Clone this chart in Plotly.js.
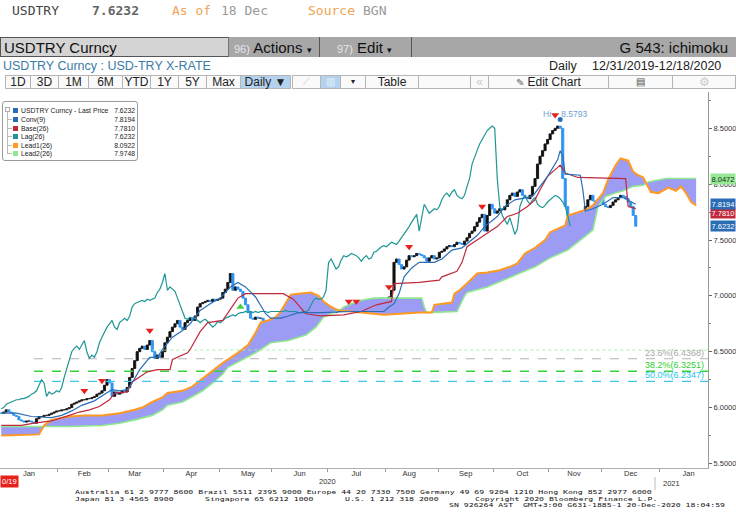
<!DOCTYPE html>
<html><head><meta charset="utf-8">
<script src="https://cdn.plot.ly/plotly-3.0.1.min.js"></script>
<style>
html,body{margin:0;padding:0;background:#fff;width:736px;height:530px;overflow:hidden;font-family:"Liberation Sans",Arial,sans-serif;}
#chart{position:absolute;left:0;top:0;width:736px;height:530px;}
.o{position:absolute;white-space:nowrap;z-index:10;}
.mono{font-family:"DejaVu Sans Mono",monospace;}
.btn{position:absolute;top:75px;height:14px;border:1px solid #b5b5b5;box-sizing:border-box;background:#fafafa;font-size:12px;line-height:12px;text-align:center;color:#222;z-index:10;}
.lg{position:absolute;font-size:6.8px;line-height:8px;color:#222;white-space:nowrap;}
.sq{position:absolute;width:5px;height:5px;left:10px;}
.ft{position:absolute;font-family:"DejaVu Sans Mono",monospace;font-size:8.2px;line-height:8px;color:#111;white-space:pre;z-index:10;transform:scaleY(0.72);transform-origin:0 0;}
</style></head><body>
<div id="chart"></div>

<!-- header -->
<div class="o mono" style="left:12px;top:3px;font-size:13px;color:#444;">USDTRY</div>
<div class="o mono" style="left:92px;top:3px;font-size:13px;color:#666;font-weight:bold;">7.6232</div>
<div class="o mono" style="left:172px;top:3px;font-size:13px;color:#f0a452;">As of</div>
<div class="o mono" style="left:221px;top:3px;font-size:13px;color:#999;">18 Dec</div>
<div class="o mono" style="left:308px;top:3px;font-size:13px;color:#f0a452;">Source</div>
<div class="o mono" style="left:363px;top:3px;font-size:13px;color:#999;">BGN</div>

<div class="o" style="left:0;top:37px;width:736px;height:20px;background:#a7a7a7;"></div>
<div class="o" style="left:0;top:37px;width:229px;height:20px;box-sizing:border-box;background:#d4d4d4;border:1px solid #555;border-right:1px solid #777;"></div>
<div class="o" style="left:4px;top:39px;font-size:15px;color:#111;">USDTRY Curncy</div>
<div class="o" style="left:319px;top:37px;width:1px;height:20px;background:#555;"></div>
<div class="o" style="left:411px;top:37px;width:1px;height:20px;background:#555;"></div>
<div class="o" style="left:234px;top:39px;font-size:15px;color:#111;"><span style="font-size:11px;color:#e6e6e6;">96)</span> Actions <span style="font-size:9px;">▾</span></div>
<div class="o" style="left:337px;top:39px;font-size:15px;color:#111;"><span style="font-size:11px;color:#e6e6e6;">97)</span> Edit <span style="font-size:9px;">▾</span></div>
<div class="o" style="right:8px;top:39px;font-size:15px;color:#111;">G 543: ichimoku</div>

<div class="o" style="left:3px;top:59px;font-size:12.5px;color:#3a7ca5;">USDTRY Curncy : USD-TRY X-RATE</div>
<div class="o" style="left:549px;top:59px;font-size:12.5px;color:#222;">Daily</div>
<div class="o" style="left:592px;top:59px;font-size:12.5px;color:#222;">12/31/2019-12/18/2020</div>

<!-- toolbar -->
<div class="btn" style="left:5px;width:26px;">1D</div>
<div class="btn" style="left:30px;width:29px;">3D</div>
<div class="btn" style="left:58px;width:31px;">1M</div>
<div class="btn" style="left:88px;width:35px;">6M</div>
<div class="btn" style="left:122px;width:29px;">YTD</div>
<div class="btn" style="left:150px;width:29px;">1Y</div>
<div class="btn" style="left:178px;width:29px;">5Y</div>
<div class="btn" style="left:206px;width:35px;">Max</div>
<div class="btn" style="left:240px;width:51px;background:#b4d2ee;">Daily ▼</div>
<div class="btn" style="left:292px;width:29px;color:#cfcfcf;font-size:10px;">⟋</div>
<div class="btn" style="left:320px;width:21px;background:#b4d2ee;color:#e8f0f8;font-size:10px;">▥</div>
<div class="btn" style="left:340px;width:26px;font-size:8px;">▾</div>
<div class="btn" style="left:365px;width:54px;">Table</div>
<div class="btn" style="left:418px;width:53px;"></div>
<div class="btn" style="left:470px;width:19px;color:#ccc;">«</div>
<div class="btn" style="left:488px;width:121px;"><span style="font-size:10px;color:#666;">✎</span> Edit Chart</div>
<div class="btn" style="left:608px;width:65px;font-size:10px;color:#555;">▤</div>
<div class="btn" style="left:672px;width:64px;color:#ccc;">⚙</div>

<!-- legend -->
<div class="o" style="left:2px;top:101px;width:136px;height:60px;box-sizing:border-box;border:1px solid #9a9a9a;border-radius:3px;background:#fff;">
  <div style="position:absolute;left:4px;top:8px;width:1px;height:44px;background:#bbb;"></div>
  <div style="position:absolute;left:2px;top:5px;width:5px;height:5px;border:1px solid #aaa;background:#fff;box-sizing:border-box;"></div>
  <div style="position:absolute;left:5px;top:17px;width:4px;height:1px;background:#bbb;"></div>
  <div style="position:absolute;left:5px;top:26px;width:4px;height:1px;background:#bbb;"></div>
  <div style="position:absolute;left:5px;top:34px;width:4px;height:1px;background:#bbb;"></div>
  <div style="position:absolute;left:5px;top:43px;width:4px;height:1px;background:#bbb;"></div>
  <div style="position:absolute;left:5px;top:51px;width:4px;height:1px;background:#bbb;"></div>
  <div class="sq" style="top:6px;background:#2a6db5;"></div>
  <div class="sq" style="top:15px;background:#2a6db5;"></div>
  <div class="sq" style="top:24px;background:#c0283c;"></div>
  <div class="sq" style="top:32px;background:#1f9696;"></div>
  <div class="sq" style="top:41px;background:#ff9922;"></div>
  <div class="sq" style="top:49px;background:#8fe88f;"></div>
  <div class="lg" style="left:18px;top:5px;">USDTRY Curncy - Last Price</div><div class="lg" style="right:2px;top:5px;">7.6232</div>
  <div class="lg" style="left:18px;top:14px;">Conv(9)</div><div class="lg" style="right:2px;top:14px;">7.8194</div>
  <div class="lg" style="left:18px;top:23px;">Base(26)</div><div class="lg" style="right:2px;top:23px;">7.7810</div>
  <div class="lg" style="left:18px;top:31px;">Lag(26)</div><div class="lg" style="right:2px;top:31px;">7.6232</div>
  <div class="lg" style="left:18px;top:40px;">Lead1(26)</div><div class="lg" style="right:2px;top:40px;">8.0922</div>
  <div class="lg" style="left:18px;top:48px;">Lead2(26)</div><div class="lg" style="right:2px;top:48px;">7.9748</div>
</div>

<!-- footer -->
<div class="ft" style="left:75px;top:489px;">Australia 61 2 9777 8600 Brazil 5511 2395 9000 Europe 44 20 7330 7500 Germany 49 69 9204 1210 Hong Kong 852 2977 6000</div>
<div class="ft" style="left:75px;top:495.5px;">Japan 81 3 4565 8900</div>
<div class="ft" style="left:205px;top:495.5px;">Singapore 65 6212 1000</div>
<div class="ft" style="left:345px;top:495.5px;">U.S. 1 212 318 2000</div>
<div class="ft" style="left:475px;top:495.5px;">Copyright 2020 Bloomberg Finance L.P.</div>
<div class="ft" style="left:449px;top:502px;">SN 926264 AST  GMT+3:00 G631-1885-1 20-Dec-2020 18:04:59</div>

<script>
// ---------- data ----------
const firstDay = '2020-01-01';
const prevClose2019 = 5.9505;               // 31 Dec 2019 close
// daily USDTRY closes, 1 Jan 2020 .. 18 Dec 2020 (trading days)
const closeJan = [5.95,5.96,5.98,5.96,5.95,5.93,5.92,5.89,5.88,5.87,5.88,5.88,5.87,5.86,5.90,5.92,5.92,5.93,5.93,5.94,5.95,5.96,5.97];
const closeFeb = [5.97,5.98,5.98,5.99,6.00,6.03,6.04,6.05,6.06,6.07,6.07,6.08,6.08,6.09,6.10,6.12,6.13,6.15,6.20,6.25];
const closeMar = [6.22,6.10,6.14,6.12,6.13,6.15,6.14,6.18,6.27,6.35,6.42,6.50,6.53,6.55,6.52,6.56,6.60,6.50,6.44,6.47,6.45,6.50];
const closeApr = [6.58,6.63,6.68,6.72,6.75,6.78,6.72,6.70,6.76,6.78,6.80,6.78,6.82,6.90,6.93,6.94,6.95,6.96,6.95,6.97,6.96,6.97];
const closeMay = [6.98,7.03,7.06,7.12,7.20,7.05,7.08,7.06,7.04,6.98,6.92,6.86,6.80,6.79,6.81,6.80,6.80,6.78,6.76,6.78,6.79];
const closeJun = [6.77,6.74,6.72,6.74,6.77,6.76,6.78,6.80,6.81,6.82,6.83,6.82,6.84,6.85,6.85,6.86,6.85,6.86,6.85,6.86,6.85,6.86];
const closeJul = [6.86,6.86,6.85,6.86,6.86,6.86,6.86,6.86,6.86,6.87,6.86,6.86,6.86,6.86,6.85,6.85,6.86,6.86,6.87,6.92,6.96,6.98,6.97];
const closeAug = [6.97,6.99,7.05,7.30,7.33,7.28,7.24,7.26,7.32,7.36,7.35,7.36,7.38,7.37,7.36,7.34,7.31,7.34,7.36,7.33,7.34];
const closeSep = [7.39,7.40,7.42,7.44,7.45,7.44,7.46,7.48,7.47,7.46,7.49,7.52,7.56,7.58,7.62,7.66,7.70,7.73,7.58,7.72,7.82,7.78];
const closeOct = [7.74,7.76,7.78,7.77,7.80,7.86,7.90,7.92,7.89,7.93,7.95,7.90,7.88,7.87,7.90,7.98,8.05,8.18,8.25,8.30,8.36,8.40];
const closeNov = [8.45,8.48,8.50,8.52,8.50,8.05,7.80,7.72,7.68,7.64,7.70,7.62,7.55,7.60,7.80,7.86,7.90,7.85,7.82,7.86,7.88];
const closeDec = [7.82,7.80,7.79,7.81,7.84,7.86,7.88,7.90,7.89,7.87,7.84,7.80,7.72,7.6232];

// Ichimoku lines, sampled on trading-day index (0 = 1 Jan 2020)
const convDay = [0,6,12,20,24,28,32,37,41,44,47,50,52,55,59,62,64,68,72,75,79,83,87,91,94,97,101,105,107,111,114,118,127,139,152,154,156,158,160,163,166,172,175,179,183,189,192,197,200,204,211,214,217,221,222,223,224,230,231,232,235,239,243,247,252];
const convVal = [5.95,5.95,5.92,5.91,5.93,5.97,6.02,6.06,6.12,6.16,6.15,6.16,6.22,6.34,6.45,6.45,6.52,6.63,6.69,6.75,6.87,6.93,6.98,7.08,7.12,7.08,6.99,6.84,6.80,6.80,6.82,6.85,6.85,6.86,6.86,6.90,6.93,7.02,7.17,7.25,7.30,7.30,7.33,7.41,7.43,7.54,7.62,7.71,7.80,7.86,7.89,7.98,8.07,8.22,8.30,8.25,8.09,8.08,7.95,7.76,7.78,7.82,7.88,7.88,7.8194];
const baseDay = [0,8,13,20,27,31,35,39,43,45,50,52,58,62,67,68,74,75,79,82,88,91,94,97,112,116,118,121,127,136,143,149,155,156,166,174,175,179,181,183,185,189,193,197,201,205,209,212,214,217,220,222,224,229,248,249,252];
const baseVal = [5.84,5.84,5.86,5.88,5.93,5.96,5.98,6.01,6.07,6.13,6.14,6.23,6.32,6.34,6.34,6.43,6.49,6.52,6.68,6.76,6.78,6.88,6.98,7.02,7.02,6.97,6.92,6.84,6.82,6.83,6.86,6.92,6.95,7.11,7.12,7.14,7.17,7.20,7.22,7.30,7.44,7.50,7.56,7.62,7.71,7.74,7.80,7.86,7.95,8.07,8.13,8.17,8.10,8.06,8.05,7.80,7.781];
const lagShift = 26;
const lead1Day = [0,15,17,20,27,33,40,47,53,56,60,64,66,69,72,76,80,84,88,94,98,101,103,106,109,111,113,115,118,123,126,128,131,134,139,152,166,171,172,179,180,182,185,189,193,198,202,205,208,212,216,218,221,224,225,228,232,235,239,241,244,246,249,251,253,255,258,261,265,268,270,272,274,276];
const lead1Val = [5.75,5.76,5.84,5.89,5.92,5.93,5.93,5.95,5.98,6.00,6.05,6.09,6.13,6.14,6.15,6.19,6.26,6.33,6.40,6.49,6.56,6.67,6.76,6.78,6.81,6.86,6.93,7.01,7.02,7.03,7.00,6.95,6.90,6.87,6.86,6.83,6.85,6.85,6.92,6.94,7.02,7.05,7.11,7.20,7.21,7.23,7.26,7.29,7.38,7.43,7.50,7.57,7.60,7.63,7.72,7.74,7.77,7.81,7.92,8.04,8.17,8.23,8.21,8.11,8.08,8.06,7.93,7.92,7.97,7.94,7.98,7.92,7.84,7.81];
const lead2Day = [0,15,27,40,47,53,60,64,66,72,76,80,84,88,90,101,107,114,121,125,128,131,135,136,139,143,148,167,168,169,181,184,185,193,205,212,218,225,230,235,237,240,244,247,251,255,257,261,264,276];
const lead2Val = [5.83,5.83,5.83,5.84,5.86,5.89,5.93,5.98,6.02,6.05,6.10,6.15,6.22,6.30,6.36,6.49,6.58,6.60,6.65,6.72,6.81,6.84,6.88,6.90,6.93,6.96,6.98,6.98,6.90,6.85,6.86,7.00,7.03,7.08,7.19,7.26,7.34,7.41,7.50,7.59,7.80,7.89,7.92,7.94,7.98,7.99,8.02,8.04,8.05,8.05];

// signal markers
const sigDownDay = [33,40,59,138,141,154,162,191,220];
const sigDownVal = [6.15,6.24,6.69,6.95,6.95,7.08,7.44,7.80,8.62];
const sigUpDay = [95];
const sigUpVal = [6.90];
const highDay = 222, highVal = 8.5793;

// Fibonacci levels
const fibLabels = ['23.6%(6.4368)','38.2%(6.3251)','50.0%(6.2347)'];
const fibValues = [6.4368,6.3251,6.2347];
const fibStartDay = 13;
const markLevel = 6.515, markStartDay = 60;

// right-edge value tags (Lead2, Base, Conv, Last)
const tagValues = [8.0472,7.7810,7.8194,7.6232];
const tagLabels = ['8.0472','7.7810','7.8194','7.6232'];

// ---------- build ----------
function tradingDays(start, n){
  const out=[]; let t=Date.parse(start+'T00:00:00Z');
  while(out.length<n){ const d=new Date(t); const w=d.getUTCDay();
    if(w!==0&&w!==6) out.push(d.toISOString().slice(0,10)+' 12:00'); t+=86400000; }
  return out;
}
const days = tradingDays(firstDay, 300);
const close = [].concat(closeJan,closeFeb,closeMar,closeApr,closeMay,closeJun,closeJul,closeAug,closeSep,closeOct,closeNov,closeDec);
const open = close.map((c,i)=> i===0 ? prevClose2019 : close[i-1]);
const px = close.map((c,i)=>days[i]);
const up = close.map((c,i)=> c>=open[i]);
const barCol = up.map(u=> u ? '#111111' : '#2f93f2');
const D = a => a.map(d=>days[d]);
const xEnd = '2021-01-28 05:00';

const traces = [
  {x:D(lead2Day), y:lead2Val, type:'scatter', mode:'lines', line:{color:'#8fe88f', width:1.6}, hoverinfo:'skip'},
  {x:D(lead1Day), y:lead1Val, type:'scatter', mode:'lines', fill:'tonexty', fillcolor:'#9c9cf5', line:{color:'#ff9922', width:2}, hoverinfo:'skip'},
  {x:[days[markStartDay], xEnd], y:[markLevel,markLevel], type:'scatter', mode:'lines', line:{color:'#a6f0a6', width:1, dash:'dot'}, hoverinfo:'skip'},
  {x:[days[fibStartDay], xEnd], y:[fibValues[0],fibValues[0]], type:'scatter', mode:'lines', line:{color:'#b4b4b4', width:1.2, dash:'dash'}, hoverinfo:'skip'},
  {x:[days[fibStartDay], xEnd], y:[fibValues[1],fibValues[1]], type:'scatter', mode:'lines', line:{color:'#3ad23a', width:1.6, dash:'dash'}, hoverinfo:'skip'},
  {x:[days[fibStartDay], xEnd], y:[fibValues[2],fibValues[2]], type:'scatter', mode:'lines', line:{color:'#3cc8ee', width:1.2, dash:'dash'}, hoverinfo:'skip'},
  {x:px, y:close.map((c,i)=>c-open[i]), base:open, type:'bar', width:0.85*86400000,
   marker:{color:barCol, line:{color:barCol, width:0.9}}, hoverinfo:'skip'},
  {x:days.slice(0, close.length-lagShift), y:close.slice(lagShift), type:'scatter', mode:'lines', line:{color:'#1f9696', width:1.2}, hoverinfo:'skip'},
  {x:D(baseDay), y:baseVal, type:'scatter', mode:'lines', line:{color:'#c0283c', width:1.2}, hoverinfo:'skip'},
  {x:D(convDay), y:convVal, type:'scatter', mode:'lines', line:{color:'#2a6db5', width:1.2}, hoverinfo:'skip'},
  {x:D(sigDownDay), y:sigDownVal, type:'scatter', mode:'markers', marker:{symbol:'triangle-down', size:7, color:'#e8211c'}, hoverinfo:'skip'},
  {x:D(sigUpDay), y:sigUpVal, type:'scatter', mode:'markers', marker:{symbol:'triangle-up', size:7, color:'#44d044'}, hoverinfo:'skip'},
  {x:[days[highDay]], y:[highVal], type:'scatter', mode:'markers', marker:{symbol:'circle', size:5, color:'#2a6db5'}, hoverinfo:'skip'}
];

const ann = [];
const fibCols = ['#a8a8a8','#2fcf2f','#22c4ea'];
fibLabels.forEach((t,i)=>ann.push({xref:'paper', x:0.997, xanchor:'right', y:fibValues[i], yanchor:'bottom', yshift:-1,
  text:t, showarrow:false, font:{family:'Liberation Sans, Arial', size:9, color:fibCols[i]}}));
ann.push({x:days[224], y:8.625, text:'Hi\u2002\u2002\u20098.5793', showarrow:false, font:{family:'Liberation Sans, Arial', size:8.5, color:'#6d9fd2'}});
const tagBg = ['#97e897','#c0283c','#2a6db5','#2a6db5'];
const tagFg = ['#113311','#ffffff','#ffffff','#ffffff'];
const tagShift = [0,-4,0,0];   // Base tag sits just under the Conv tag
tagValues.forEach((v,i)=>ann.push({xref:'paper', x:1.003, xanchor:'left', y:v, yanchor:'middle', yshift:tagShift[i], text:tagLabels[i], showarrow:false,
  bgcolor:tagBg[i], borderpad:0.5, font:{family:'Liberation Sans, Arial', size:7.5, color:tagFg[i]}}));
ann.push({xref:'paper', yref:'paper', x:327/708, y:-14/376, yanchor:'middle', text:'2020', showarrow:false, font:{family:'Liberation Sans, Arial', size:7.5, color:'#333'}});
ann.push({xref:'paper', yref:'paper', x:682/708, y:-15/376, yanchor:'middle', text:'2021', showarrow:false, font:{family:'Liberation Sans, Arial', size:7.5, color:'#333'}});
ann.push({xref:'paper', yref:'paper', x:0, xanchor:'left', y:-14/376, yanchor:'middle', text:'0/19', showarrow:false, bgcolor:'#e8201c', borderpad:1, font:{family:'Liberation Sans, Arial', size:7.5, color:'#fff'}});

const layout = {
  width:736, height:530, margin:{l:0, r:28, t:92, b:62}, showlegend:false,
  paper_bgcolor:'#ffffff', plot_bgcolor:'#ffffff', bargap:0,
  xaxis:{type:'date', range:['2020-01-01 00:00', xEnd], rangebreaks:[{bounds:['sat','mon']}],
    dtick:'M1', tick0:'2020-01-01', tickformat:'%b', ticklabelmode:'period', ticklabelstandoff:-5,
    ticks:'outside', ticklen:3, tickcolor:'#999', showline:true, linecolor:'#b0b0b0', linewidth:1,
    showgrid:false, zeroline:false, tickfont:{family:'Liberation Sans, Arial', size:7.5, color:'#333'}, fixedrange:true},
  yaxis:{side:'right', range:[5.459, 8.825], dtick:0.5, tick0:5.5, tickformat:'.4f',
    ticks:'outside', ticklen:3, tickcolor:'#666', showline:true, linecolor:'#999', linewidth:1,
    minor:{dtick:0.25, tick0:5.5, ticks:'outside', ticklen:2, tickcolor:'#888', showgrid:false},
    showgrid:false, zeroline:false, tickfont:{family:'Liberation Sans, Arial', size:7.5, color:'#333'}, fixedrange:true},
  annotations:ann,
  shapes:[{type:'line', xref:'paper', yref:'paper', x0:655/708, x1:655/708, y0:-9/376, y1:-22/376, line:{color:'#bbb', width:1}}]
};
Plotly.newPlot('chart', traces, layout, {staticPlot:true, displayModeBar:false});
</script>
</body></html>
